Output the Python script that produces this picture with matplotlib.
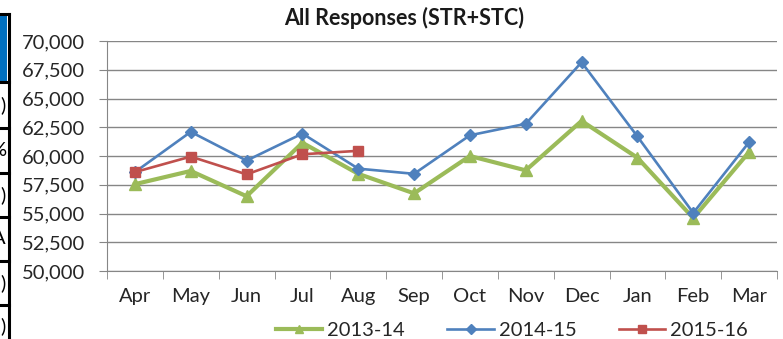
import matplotlib
matplotlib.use('Agg')
import matplotlib.pyplot as plt
from matplotlib.lines import Line2D
from matplotlib.patches import Rectangle
from matplotlib.ticker import FuncFormatter

plt.rcParams['font.family'] = ['Lato', 'DejaVu Sans']

months = ['Apr', 'May', 'Jun', 'Jul', 'Aug', 'Sep', 'Oct', 'Nov', 'Dec', 'Jan', 'Feb', 'Mar']
s_2013 = [57550, 58700, 56500, 61150, 58450, 56750, 60000, 58750, 63050, 59850, 54600, 60350]
s_2014 = [58600, 62100, 59600, 61950, 58900, 58450, 61800, 62800, 68150, 61700, 55050, 61200]
s_2015 = [58600, 59950, 58400, 60150, 60450]
side_labels = [')', '%', ')', 'A', ')', ')']

W, H = 783, 339
fig = plt.figure(figsize=(W / 100, H / 100), dpi=100)

def fx(px):
    return px / W

def fy(py):
    return 1 - py / H

ax = fig.add_axes([fx(107), fy(271), fx(777 - 107), (271 - 41) / H])

x = list(range(len(months)))
ax.plot(x, s_2013, color='#9bbb59', lw=3.0, marker='^', ms=8, label='2013-14', zorder=3)
ax.plot(x, s_2014, color='#4f81bd', lw=1.9, marker='D', ms=6.5, label='2014-15', zorder=4)
ax.plot(x[:len(s_2015)], s_2015, color='#c0504d', lw=1.9, marker='s', ms=7.5, label='2015-16', zorder=5)

ax.set_xlim(-0.5, 11.5)
ax.set_ylim(50000, 70000)
ax.set_yticks(range(50000, 70001, 2500))
ax.yaxis.set_major_formatter(FuncFormatter(lambda v, p: f'{int(v):,}'))
ax.set_xticks(x)
ax.set_xticklabels(months)
ax.set_xticks([i - 0.5 for i in range(13)], minor=True)
ax.tick_params(axis='x', which='major', length=0, pad=12, labelsize=14.5, colors='#262626')
ax.tick_params(axis='x', which='minor', length=6, color='#868686', direction='out')
ax.tick_params(axis='y', length=6, color='#868686', labelsize=14.5, labelcolor='#262626', pad=10)

ax.grid(axis='y', color='#868686', lw=1)
ax.set_axisbelow(True)
for side in ['top', 'right']:
    ax.spines[side].set_visible(False)
ax.spines['left'].set_color('#868686')
ax.spines['bottom'].set_color('#868686')

fig.text(fx(404), fy(18), 'All Responses (STR+STC)', ha='center', va='center',
         fontsize=15.5, fontweight='bold', color='#1a1a1a')

fig.legend(loc='center', bbox_to_anchor=(fx(512), fy(330)), ncol=3, frameon=False,
           fontsize=14.5, handlelength=2.3, handletextpad=0.25, columnspacing=2.1,
           borderpad=0, labelcolor='#262626', markerscale=0.8)

# fragment of a neighbouring table on the left edge
fig.add_artist(Rectangle((0, fy(81)), fx(7.5), (81 - 15) / H, transform=fig.transFigure,
                         facecolor='#0070c0', edgecolor='none'))
fig.add_artist(Line2D([fx(8.5), fx(8.5)], [fy(14), 0], transform=fig.transFigure, color='black', lw=2.2))
for py in [14, 82, 128, 173, 217, 261, 305]:
    fig.add_artist(Line2D([0, fx(9)], [fy(py), fy(py)], transform=fig.transFigure, color='black', lw=2.2))
for lab, py in zip(side_labels, [105, 150, 195, 239, 283, 326]):
    fig.text(fx(6), fy(py), lab, ha='right', va='center', fontsize=14.5, color='black')

fig.savefig('out.png', dpi=100)
